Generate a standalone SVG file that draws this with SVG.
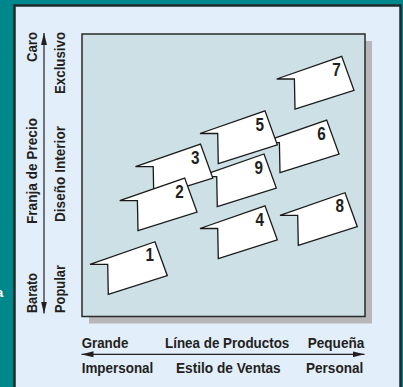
<svg xmlns="http://www.w3.org/2000/svg" xmlns:xlink="http://www.w3.org/1999/xlink" width="403" height="387" viewBox="0 0 403 387">
<style>
.lbl{font-family:"Liberation Sans Narrow","Liberation Sans",Arial,sans-serif;font-weight:bold;font-size:14px;fill:#231f20}
.vl{font-size:14.5px}
.num{font-family:"Liberation Sans Narrow","Liberation Sans",Arial,sans-serif;font-weight:bold;font-size:18px;fill:#231f20;text-anchor:end}
.tag{fill:#ffffff;stroke:#1a1a1a;stroke-width:1.3;stroke-linejoin:miter}
.axis{stroke:#231f20;stroke-width:1.2;fill:none}
</style>
<defs>
<marker id="ah" viewBox="0 0 12 6" refX="12" refY="3" markerWidth="12" markerHeight="6" markerUnits="userSpaceOnUse" orient="auto-start-reverse">
<path d="M0,0 L12,3 L0,6 Z" fill="#231f20"/>
</marker>
<path id="tagshape" d="M0,0 L65,-22.6 L77.3,11.4 L18.3,30 L17.7,0 Z"/>
</defs>
<rect x="0" y="0" width="403" height="387" fill="#00878b"/>
<text x="-4" y="297" font-family="Liberation Sans,Arial,sans-serif" font-weight="bold" font-size="13" fill="#ffffff">a</text>
<rect x="14.5" y="5.5" width="386" height="390" fill="#e2eef9" stroke="#1f2a2c" stroke-width="2.5"/>
<rect x="89" y="41" width="283" height="282.5" fill="#b7b7ba"/>
<rect x="82" y="34" width="283" height="282.5" fill="#cce0e6" stroke="#2a2a2a" stroke-width="1.5"/>
<g id="connectors">
<line class="axis" x1="44" y1="313.5" x2="44" y2="33" marker-start="url(#ah)" marker-end="url(#ah)"/>
<line class="axis" x1="364.5" y1="354.3" x2="81.5" y2="354.3" marker-start="url(#ah)" marker-end="url(#ah)"/>
</g>
<g id="axis-labels">
<text class="lbl vl" transform="translate(37,32) rotate(-90)" text-anchor="end" textLength="30" lengthAdjust="spacingAndGlyphs">Caro</text>
<text class="lbl vl" transform="translate(37,171) rotate(-90)" text-anchor="middle" textLength="106" lengthAdjust="spacingAndGlyphs">Franja de Precio</text>
<text class="lbl vl" transform="translate(37,313) rotate(-90)" textLength="40" lengthAdjust="spacingAndGlyphs">Barato</text>
<text class="lbl vl" transform="translate(65,32) rotate(-90)" text-anchor="end" textLength="62" lengthAdjust="spacingAndGlyphs">Exclusivo</text>
<text class="lbl vl" transform="translate(65,174) rotate(-90)" text-anchor="middle" textLength="96" lengthAdjust="spacingAndGlyphs">Diseño Interior</text>
<text class="lbl vl" transform="translate(65,313) rotate(-90)" textLength="48" lengthAdjust="spacingAndGlyphs">Popular</text>
<text class="lbl" x="81.7" y="348.3" textLength="46.6" lengthAdjust="spacingAndGlyphs">Grande</text>
<text class="lbl" x="165" y="348.3" textLength="124.3" lengthAdjust="spacingAndGlyphs">Línea de Productos</text>
<text class="lbl" x="307.7" y="348.3" textLength="56.6" lengthAdjust="spacingAndGlyphs">Pequeña</text>
<text class="lbl" x="81.7" y="373.3" textLength="71.6" lengthAdjust="spacingAndGlyphs">Impersonal</text>
<text class="lbl" x="176" y="373.3" textLength="104.7" lengthAdjust="spacingAndGlyphs">Estilo de Ventas</text>
<text class="lbl" x="306" y="373.3" textLength="57.3" lengthAdjust="spacingAndGlyphs">Personal</text>
</g>
<g id="tag1" transform="translate(90,264.3)"><use xlink:href="#tagshape" class="tag"/><text class="num" x="64" y="-3" textLength="8.5" lengthAdjust="spacingAndGlyphs">1</text></g>
<g id="tag4" transform="translate(200,228.5)"><use xlink:href="#tagshape" class="tag"/><text class="num" x="64" y="-3" textLength="8.5" lengthAdjust="spacingAndGlyphs">4</text></g>
<g id="tag8" transform="translate(280,215.3)"><use xlink:href="#tagshape" class="tag"/><text class="num" x="64" y="-3" textLength="8.5" lengthAdjust="spacingAndGlyphs">8</text></g>
<g id="tag7" transform="translate(276.7,79)"><use xlink:href="#tagshape" class="tag"/><text class="num" x="64" y="-3" textLength="8.5" lengthAdjust="spacingAndGlyphs">7</text></g>
<g id="tag6" transform="translate(261.7,142.7)"><use xlink:href="#tagshape" class="tag"/><text class="num" x="64" y="-3" textLength="8.5" lengthAdjust="spacingAndGlyphs">6</text></g>
<g id="tag5" transform="translate(200,133.5)"><use xlink:href="#tagshape" class="tag"/><text class="num" x="64" y="-3" textLength="8.5" lengthAdjust="spacingAndGlyphs">5</text></g>
<g id="tag9" transform="translate(199,176.6)"><use xlink:href="#tagshape" class="tag"/><text class="num" x="64" y="-3" textLength="8.5" lengthAdjust="spacingAndGlyphs">9</text></g>
<g id="tag3" transform="translate(135.5,166.7)"><use xlink:href="#tagshape" class="tag"/><text class="num" x="64" y="-3" textLength="8.5" lengthAdjust="spacingAndGlyphs">3</text></g>
<g id="tag2" transform="translate(119.7,200.7)"><use xlink:href="#tagshape" class="tag"/><text class="num" x="64" y="-3" textLength="8.5" lengthAdjust="spacingAndGlyphs">2</text></g>
</svg>
